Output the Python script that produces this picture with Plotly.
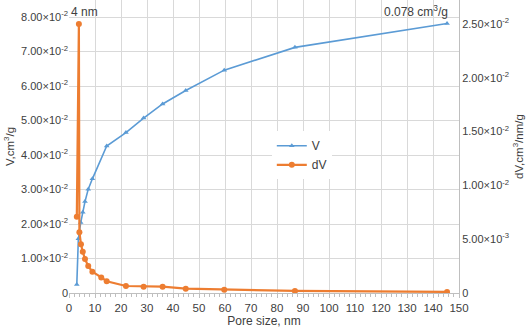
import plotly.graph_objects as go

# Cumulative pore volume V (left axis)
v_x = [3.0, 3.6, 4.5, 5.3, 6.15, 7.4, 9.0, 14.5, 21.9, 28.7, 36.0, 44.9, 59.7, 86.9, 145.4]
v_y = [0.0025, 0.0157, 0.0204, 0.0234, 0.0265, 0.0301, 0.0331, 0.0426, 0.0465, 0.0507, 0.0548, 0.0587, 0.0646, 0.0712, 0.0781]

# Differential pore volume dV (right axis)
dv_x = [3.0, 3.8, 4.0, 4.6, 5.3, 6.15, 7.4, 9.0, 12.4, 14.5, 21.9, 28.7, 36.0, 44.9, 59.7, 86.9, 145.4]
dv_y = [0.00709, 0.0250, 0.00565, 0.00453, 0.00384, 0.00316, 0.00250, 0.00198, 0.00145, 0.00109, 0.00065, 0.00059, 0.00059, 0.00040, 0.00031, 0.00019, 0.00010]

left_ticks = [0, 0.01, 0.02, 0.03, 0.04, 0.05, 0.06, 0.07, 0.08]
left_text = ["0"] + [f"{i}.00×10<sup>-2</sup>" for i in range(1, 9)]
right_ticks = [0, 0.005, 0.01, 0.015, 0.02, 0.025]
right_text = ["0", "5.00×10<sup>-3</sup>", "1.00×10<sup>-2</sup>", "1.50×10<sup>-2</sup>",
              "2.00×10<sup>-2</sup>", "2.50×10<sup>-2</sup>"]

BLUE = "#5b9bd5"
ORANGE = "#ed7d31"
FONT = "Liberation Sans, Arial, sans-serif"
TXT = "#404040"

fig = go.Figure()
fig.add_trace(go.Scatter(x=v_x, y=v_y, name="V", mode="lines+markers",
                         line=dict(color=BLUE, width=1.6),
                         marker=dict(symbol="triangle-up", size=5, color=BLUE)))
fig.add_trace(go.Scatter(x=dv_x, y=dv_y, name="dV", mode="lines+markers", yaxis="y2",
                         line=dict(color=ORANGE, width=2.2),
                         marker=dict(symbol="circle", size=6, color=ORANGE)))

fig.update_layout(
    width=529, height=328,
    margin=dict(l=69, r=70, t=0, b=35),
    paper_bgcolor="white", plot_bgcolor="white",
    font=dict(family=FONT, size=11, color=TXT),
    showlegend=True,
    legend=dict(x=0.52, y=0.47, xanchor="left", yanchor="middle",
                bgcolor="white", font=dict(size=12, color=TXT),
                tracegroupgap=0, itemwidth=30),
    xaxis=dict(range=[0, 150], tickvals=list(range(0, 151, 10)),
               showgrid=True, gridcolor="#d9d9d9", gridwidth=1,
               showline=True, linecolor="#bfbfbf", zeroline=False,
               ticks="outside", ticklen=4, tickcolor="#bfbfbf",
               minor=dict(dtick=2, ticks="outside", ticklen=3, tickcolor="#bfbfbf", showgrid=False),
               title=dict(text="Pore size, nm", font=dict(size=12, color=TXT), standoff=2),
               tickfont=dict(size=11.5, color=TXT)),
    yaxis=dict(range=[0, 0.08493], tickvals=left_ticks, ticktext=left_text,
               showgrid=True, gridcolor="#d9d9d9", gridwidth=1,
               showline=False, zeroline=False, ticks="",
               title=dict(text="V,cm<sup>3</sup>/g", font=dict(size=11.5, color=TXT), standoff=4),
               tickfont=dict(size=11, color=TXT)),
    yaxis2=dict(range=[0, 0.02723], tickvals=right_ticks, ticktext=right_text,
                overlaying="y", side="right", showgrid=False,
                showline=True, linecolor="#bfbfbf", zeroline=False, ticks="",
                title=dict(text="dV,cm<sup>3</sup>/nm/g", font=dict(size=11.5, color=TXT), standoff=6),
                tickfont=dict(size=11, color=TXT)),
    annotations=[
        dict(x=3.8, y=0.0250, yref="y2", xref="x", text="4 nm", showarrow=False,
             xanchor="center", yanchor="bottom", xshift=6, yshift=3,
             font=dict(size=12, color=TXT)),
        dict(x=145.4, y=0.0781, xref="x", yref="y", text="0.078 cm<sup>3</sup>/g", showarrow=False,
             xanchor="right", yanchor="bottom", xshift=3, yshift=3,
             font=dict(size=12, color=TXT)),
    ],
)

fig.write_html("out.html")
